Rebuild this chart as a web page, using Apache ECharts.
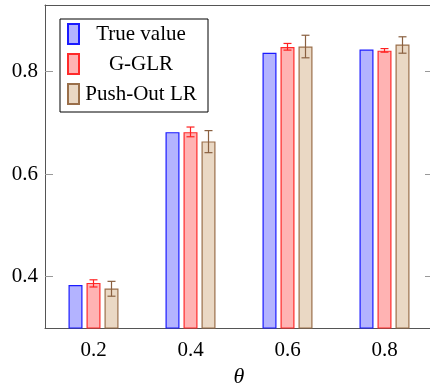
<!DOCTYPE html>
<html>
<head>
<meta charset="utf-8">
<script src="https://cdn.jsdelivr.net/npm/echarts@6/dist/echarts.min.js"></script>
<style>
  html, body { margin: 0; padding: 0; background: #fff; }
  #chart { width: 430px; height: 383px; }
</style>
</head>
<body>
<div id="chart"></div>
<script>
const thetas = ['0.2', '0.4', '0.6', '0.8'];
const yTicks = [0.4, 0.6, 0.8];
const trueValue = [0.384, 0.682, 0.837, 0.843];
const gglr = [0.388, 0.682, 0.848, 0.841];
const gglrErr = [[0.380, 0.394], [0.673, 0.692], [0.842, 0.855], [0.838, 0.845]];
const pushOut = [0.377, 0.664, 0.849, 0.853];
const pushOutErr = [[0.362, 0.391], [0.642, 0.685], [0.827, 0.871], [0.836, 0.868]];

const font = '"Liberation Serif", "DejaVu Serif", serif';
const axisColor = '#555';
const BAR_W = 14;
const STEP = 18; // distance between bar centres in a group

const myChart = echarts.init(document.getElementById('chart'));

// error bars drawn with the library's coordinates, shifted to the bar's slot
function errorSeries(name, data, color, slot) {
  return {
    name: name,
    type: 'custom',
    z: 5,
    silent: true,
    data: data.map((d, i) => [i, d[0], d[1]]),
    renderItem: function (params, api) {
      const lo = api.coord([api.value(0), api.value(1)]);
      const hi = api.coord([api.value(0), api.value(2)]);
      const x = lo[0] + slot * STEP;
      const cap = 4;
      const style = { stroke: color, lineWidth: 1.2 };
      return {
        type: 'group',
        children: [
          { type: 'line', shape: { x1: x, y1: lo[1], x2: x, y2: hi[1] }, style: style },
          { type: 'line', shape: { x1: x - cap, y1: lo[1], x2: x + cap, y2: lo[1] }, style: style },
          { type: 'line', shape: { x1: x - cap, y1: hi[1], x2: x + cap, y2: hi[1] }, style: style }
        ]
      };
    }
  };
}

function barSeries(name, data, fill, stroke) {
  return {
    name: name,
    type: 'bar',
    data: data,
    barWidth: BAR_W,
    barGap: ((STEP - BAR_W) / BAR_W * 100) + '%',
    itemStyle: { color: fill, borderColor: stroke, borderWidth: 1.2 }
  };
}

const option = {
  animation: false,
  grid: { left: 45, right: -3, top: 5, bottom: 55, outerBoundsMode: 'none', containLabel: false },
  legend: {
    left: 60,
    top: 19,
    orient: 'vertical',
    icon: 'rect',
    itemWidth: 11,
    itemHeight: 20,
    itemGap: 8,
    padding: [4, 10, 7, 7],
    borderColor: '#000',
    borderWidth: 1,
    borderRadius: 0,
    data: ['True value', 'G-GLR', 'Push-Out LR'],
    formatter: name => '{c|' + name + '}',
    textStyle: {
      fontFamily: font,
      fontSize: 21,
      color: '#000',
      rich: { c: { width: 114, lineHeight: 20, align: 'center', fontFamily: font, fontSize: 21, color: '#000' } }
    }
  },
  xAxis: [
    {
      type: 'category',
      data: thetas,
      name: 'θ',
      nameLocation: 'middle',
      nameGap: 36,
      nameTextStyle: { fontFamily: font, fontSize: 22, fontStyle: 'italic', color: '#000' },
      axisLine: { lineStyle: { color: axisColor } },
      axisTick: { alignWithLabel: true, length: 6, lineStyle: { color: '#999' } },
      axisLabel: { fontFamily: font, fontSize: 21, color: '#000', margin: 12 }
    },
    {
      type: 'category',
      data: thetas,
      position: 'top',
      axisLine: { lineStyle: { color: axisColor } },
      axisTick: { alignWithLabel: true, length: 5, lineStyle: { color: '#999' } },
      axisLabel: { show: false }
    }
  ],
  yAxis: [
    {
      type: 'value',
      min: 0.3,
      max: 0.93,
      axisLine: { show: true, lineStyle: { color: axisColor } },
      axisTick: { show: true, inside: true, length: 8, customValues: yTicks, lineStyle: { color: '#999' } },
      axisLabel: {
        fontFamily: font, fontSize: 21, color: '#000', margin: 7,
        customValues: yTicks,
        formatter: v => v.toFixed(1)
      },
      splitLine: { show: false }
    },
    {
      type: 'value',
      min: 0.3,
      max: 0.93,
      position: 'right',
      axisLine: { show: true, lineStyle: { color: axisColor } },
      axisTick: { show: true, inside: true, length: 8, customValues: yTicks, lineStyle: { color: '#999' } },
      axisLabel: { show: false },
      splitLine: { show: false }
    }
  ],
  series: [
    barSeries('True value', trueValue, '#b3b3ff', '#1a1aff'),
    barSeries('G-GLR', gglr, '#ffb3b3', '#ff2a2a'),
    barSeries('Push-Out LR', pushOut, '#ead8c4', '#9a6f4a'),
    errorSeries('G-GLR err', gglrErr, '#ff2020', 0),
    errorSeries('Push-Out err', pushOutErr, '#8a6040', 1)
  ]
};

myChart.setOption(option);
</script>
</body>
</html>
